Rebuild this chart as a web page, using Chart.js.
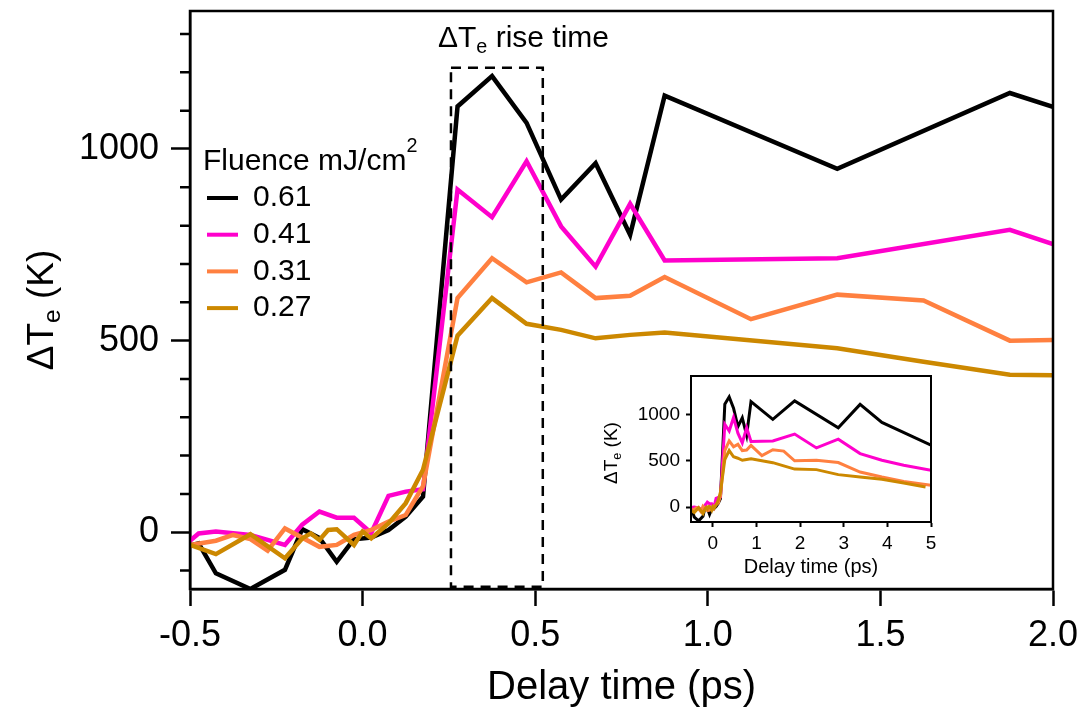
<!DOCTYPE html>
<html>
<head>
<meta charset="utf-8">
<script src="https://cdn.jsdelivr.net/npm/chart.js@4.4.1/dist/chart.umd.min.js"></script>
<style>
  body { margin: 0; background: #fff; }
  #wrap { position: relative; width: 1083px; height: 712px; }
  #main { position: absolute; left: 0; top: 0; }
  #inset { position: absolute; left: 590px; top: 366px; }
</style>
</head>
<body>
<div id="wrap">
  <canvas id="main" width="1083" height="712"></canvas>
  <canvas id="inset" width="360" height="218"></canvas>
</div>
<script>
// electron temperature rise vs delay, four pump fluences

const fluences = ['0.61', '0.41', '0.31', '0.27'];
const colors = ['#000000', '#ff00cc', '#ff8040', '#cc8800'];

// delay (ps) and ΔTe (K) per fluence
const t061 = [-0.5, -0.475, -0.425, -0.325, -0.225, -0.175, -0.125, -0.075, -0.025, 0.025, 0.075, 0.125, 0.175,
  0.275, 0.375, 0.475, 0.575, 0.675, 0.775, 0.875, 1.375, 1.875, 2.875, 3.375, 3.875, 5.0];
const dT061 = [-35, -29, -107, -148, -98, 8, -15, -77, -18, -14, 6, 41, 93,
  1111, 1190, 1068, 868, 963, 776, 1139, 948, 1146, 856, 1109, 914, 668];

const t041 = [-0.5, -0.475, -0.425, -0.325, -0.225, -0.175, -0.125, -0.075, -0.025, 0.025, 0.075, 0.125, 0.175,
  0.275, 0.375, 0.475, 0.575, 0.675, 0.775, 0.875, 1.375, 1.875, 2.375, 2.875, 3.375, 3.875, 4.375, 5.0];
const dT041 = [-22, -3, 2, -7, -33, 20, 54, 38, 38, -2, 95, 106, 112,
  894, 822, 968, 798, 693, 857, 709, 715, 789, 639, 733, 578, 506, 452, 398];

const t031 = [-0.5, -0.425, -0.375, -0.325, -0.275, -0.225, -0.125, -0.075, -0.025, 0.025, 0.075, 0.125, 0.175,
  0.275, 0.375, 0.475, 0.575, 0.675, 0.775, 0.875, 1.125, 1.375, 1.625, 1.875, 2.375, 2.875, 3.375, 3.875, 4.375, 5.0];
const dT031 = [-33, -22, -7, -18, -48, 10, -38, -33, -7, 6, 28, 45, 120,
  611, 715, 652, 678, 611, 617, 666, 556, 620, 605, 500, 506, 481, 379, 325, 278, 235];

const t027 = [-0.5, -0.425, -0.325, -0.225, -0.175, -0.15, -0.125, -0.1, -0.075, -0.025, 0.0, 0.025, 0.075, 0.125, 0.175,
  0.275, 0.375, 0.475, 0.575, 0.675, 0.775, 0.875, 1.375, 1.625, 1.875, 2.375, 2.875, 3.375, 3.875, 4.375, 4.875];
const dT027 = [-33, -57, -5, -68, -16, -3, -20, 6, 8, -33, 2, -16, 23, 76, 163,
  513, 611, 544, 528, 506, 515, 521, 480, 445, 411, 405, 351, 325, 300, 260, 217];

const times = [t061, t041, t031, t027];
const temps = [dT061, dT041, dT031, dT027];

// tick labels
const xTicks = [-0.5, 0.0, 0.5, 1.0, 1.5, 2.0];
const yTicks = [0, 500, 1000];
const yMinor = [-100, 100, 200, 300, 400, 600, 700, 800, 900, 1100, 1200, 1300];
const insetXTicks = [0, 1, 2, 3, 4, 5];
const insetYTicks = [0, 500, 1000];

// dashed rise-time window (delay, ΔTe)
const riseWin = { t0: 0.256, t1: 0.522, v0: -142, v1: 1212 };

const FONT = '"Liberation Sans", Arial, sans-serif';

function pts(t, v) {
    return t.map((x, i) => ({ x: x, y: v[i] }));
}

function makeDatasets(width) {
    return fluences.map((f, i) => ({
        label: f,
        data: pts(times[i], temps[i]),
        borderColor: colors[i],
        borderWidth: width,
        pointRadius: 0,
        tension: 0,
        order: fluences.length - 1 - i
    }));
}

// text with sub/superscripts: parts = [text, scale, shift(em)]
function richWidth(ctx, parts, size) {
    let w = 0;
    parts.forEach(p => {
        ctx.font = `${size * (p[1] || 1)}px ${FONT}`;
        w += ctx.measureText(p[0]).width;
    });
    return w;
}
function drawRich(ctx, parts, x, y, size, center) {
    let cx = center ? x - richWidth(ctx, parts, size) / 2 : x;
    ctx.textAlign = 'left';
    ctx.textBaseline = 'alphabetic';
    parts.forEach(p => {
        ctx.font = `${size * (p[1] || 1)}px ${FONT}`;
        ctx.fillText(p[0], cx, y + (p[2] || 0) * size);
        cx += ctx.measureText(p[0]).width;
    });
}

const decor = {
    id: 'decor',
    afterDatasetsDraw(chart) {
        const { ctx, chartArea: a, scales: { x, y } } = chart;
        ctx.save();
        ctx.strokeStyle = '#000';
        ctx.fillStyle = '#000';
        ctx.lineWidth = 2.5;
        ctx.strokeRect(a.left, a.top, a.right - a.left, a.bottom - a.top);

        // minor ticks on the y axis
        ctx.beginPath();
        yMinor.forEach(v => {
            const py = y.getPixelForValue(v);
            ctx.moveTo(a.left - 10, py);
            ctx.lineTo(a.left, py);
        });
        ctx.stroke();

        // rise time window
        const bx0 = x.getPixelForValue(riseWin.t0), bx1 = x.getPixelForValue(riseWin.t1);
        const by0 = y.getPixelForValue(riseWin.v0), by1 = y.getPixelForValue(riseWin.v1);
        ctx.setLineDash([10, 7]);
        ctx.lineWidth = 2.5;
        ctx.strokeRect(bx0, by1, bx1 - bx0, by0 - by1);
        ctx.setLineDash([]);
        drawRich(ctx, [['\u0394T'], ['e', 0.66, 0.2], [' rise time']], bx0 - 13, by1 - 21, 30, false);

        // legend
        const lx = a.left + 13, ly = a.top + 159;
        drawRich(ctx, [['Fluence mJ/cm'], ['2', 0.66, -0.6]], lx, ly, 30, false);
        ctx.font = `30px ${FONT}`;
        ctx.textBaseline = 'middle';
        chart.data.datasets.forEach((ds, i) => {
            const ry = ly + 27 + i * 36.7;
            ctx.strokeStyle = ds.borderColor;
            ctx.lineWidth = 4;
            ctx.beginPath();
            ctx.moveTo(lx + 4, ry + 1);
            ctx.lineTo(lx + 35, ry + 1);
            ctx.stroke();
            ctx.fillText(ds.label, lx + 50, ry + 1);
        });

        // y axis title
        ctx.translate(40, (a.top + a.bottom) / 2 + 10);
        ctx.rotate(-Math.PI / 2);
        drawRich(ctx, [['\u0394T'], ['e', 0.66, 0.2], [' (K)']], 0, 13, 37, true);
        ctx.restore();
    }
};

const insetDecor = {
    id: 'insetDecor',
    beforeDatasetsDraw(chart) {
        const { ctx, chartArea: a } = chart;
        ctx.save();
        ctx.fillStyle = '#fff';
        ctx.fillRect(a.left, a.top, a.right - a.left, a.bottom - a.top);
        ctx.restore();
    },
    afterDatasetsDraw(chart) {
        const { ctx, chartArea: a } = chart;
        ctx.save();
        ctx.strokeStyle = '#000';
        ctx.fillStyle = '#000';
        ctx.lineWidth = 2;
        ctx.strokeRect(a.left, a.top, a.right - a.left, a.bottom - a.top);
        ctx.translate(20, (a.top + a.bottom) / 2 + 4);
        ctx.rotate(-Math.PI / 2);
        drawRich(ctx, [['\u0394T'], ['e', 0.66, 0.2], [' (K)']], 0, 7, 19, true);
        ctx.restore();
    }
};

function axisStyle(tickLen, width) {
    return {
        grid: { drawOnChartArea: false, tickLength: tickLen, tickWidth: width, color: '#000' },
        border: { color: '#000', width: width }
    };
}

// keep the plot box exactly where the layout padding puts it
function fixBox(size, horizontal) {
    return s => {
        if (horizontal) s.height = size; else s.width = size;
        s.paddingTop = 0; s.paddingBottom = 0;
        s.paddingLeft = 0; s.paddingRight = 0;
    };
}

new Chart(document.getElementById('main'), {
    type: 'line',
    data: { datasets: makeDatasets(4.5) },
    options: {
        responsive: false,
        animation: false,
        layout: { padding: { top: 11, right: 30, left: 0, bottom: 0 } },
        plugins: { legend: { display: false }, tooltip: { enabled: false } },
        scales: {
            x: {
                type: 'linear', min: -0.5, max: 2.0,
                afterBuildTicks: s => { s.ticks = xTicks.map(v => ({ value: v })); },
                afterFit: fixBox(123, true),
                ticks: { callback: v => v.toFixed(1), font: { family: FONT, size: 36 }, color: '#000', padding: 8, maxRotation: 0, autoSkip: false },
                title: { display: true, text: 'Delay time (ps)', font: { family: FONT, size: 40 }, color: '#000', padding: { top: 0, bottom: 0 } },
                ...axisStyle(17, 2.5)
            },
            y: {
                type: 'linear', min: -148, max: 1360,
                afterBuildTicks: s => { s.ticks = yTicks.map(v => ({ value: v })); },
                afterFit: fixBox(190, false),
                ticks: { callback: v => String(v), font: { family: FONT, size: 36 }, color: '#000', padding: 12 },
                ...axisStyle(19, 2.5)
            }
        }
    },
    plugins: [decor]
});

new Chart(document.getElementById('inset'), {
    type: 'line',
    data: { datasets: makeDatasets(3) },
    options: {
        responsive: false,
        animation: false,
        layout: { padding: { top: 10, right: 19, left: 0, bottom: 0 } },
        plugins: { legend: { display: false }, tooltip: { enabled: false } },
        scales: {
            x: {
                type: 'linear', min: -0.5, max: 5,
                afterBuildTicks: s => { s.ticks = insetXTicks.map(v => ({ value: v })); },
                afterFit: fixBox(62, true),
                ticks: { callback: v => String(v), font: { family: FONT, size: 19 }, color: '#000', padding: 5, maxRotation: 0, autoSkip: false },
                title: { display: true, text: 'Delay time (ps)', font: { family: FONT, size: 20 }, color: '#000', padding: { top: 0, bottom: 5 } },
                ...axisStyle(5, 2)
            },
            y: {
                type: 'linear', min: -160, max: 1415,
                afterBuildTicks: s => { s.ticks = insetYTicks.map(v => ({ value: v })); },
                afterFit: fixBox(101, false),
                ticks: { callback: v => String(v), font: { family: FONT, size: 19 }, color: '#000', padding: 6 },
                ...axisStyle(5, 2)
            }
        }
    },
    plugins: [insetDecor]
});
</script>
</body>
</html>
